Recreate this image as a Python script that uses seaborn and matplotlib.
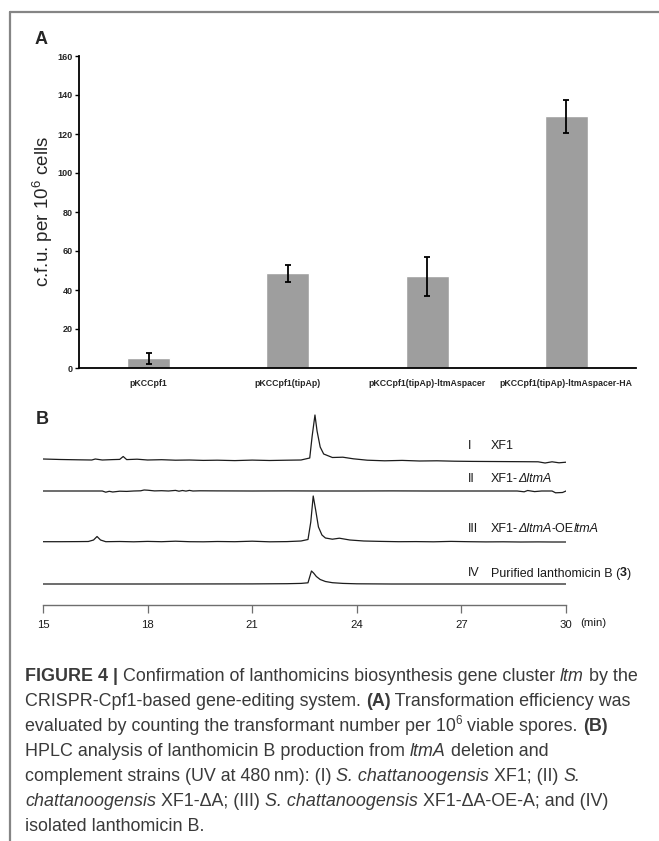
import numpy as np
import pandas as pd
import matplotlib
matplotlib.use("Agg")
import matplotlib.pyplot as plt
import seaborn as sns
from matplotlib.lines import Line2D

# ---------- data: panel A (transformation efficiency) ----------
categories = ['pKCCpf1', 'pKCCpf1(tipAp)', 'pKCCpf1(tipAp)-ltmAspacer',
              'pKCCpf1(tipAp)-ltmAspacer-HA']
cfu_mean = [5.0, 48.5, 47.0, 129.0]
cfu_err = [2.8, 4.5, 10.0, 8.5]
y_ticks_a = [0, 20, 40, 60, 80, 100, 120, 140, 160]

# ---------- data: panel B (HPLC traces) ----------
time_I = [15.0, 15.5, 16.0, 16.4, 16.5, 16.7, 17.0, 17.2, 17.3, 17.4, 17.7, 18.0,
          18.4, 18.8, 19.2, 19.6, 20.0, 20.5, 21.0, 21.5, 22.0, 22.4, 22.65, 22.72,
          22.8, 22.86, 22.95, 23.05, 23.3, 23.6, 23.9, 24.3, 24.8, 25.3, 25.8, 26.3,
          26.8, 27.3, 27.8, 28.3, 28.8, 29.2, 29.4, 29.6, 29.8, 30.0]
signal_I = [2.0, 1.5, 1.2, 1.0, 2.0, 1.0, 1.4, 1.6, 4.5, 1.4, 1.8, 1.0,
            1.3, 0.8, 1.0, 0.6, 0.8, 0.4, 0.9, 0.5, 0.8, 1.0, 3.0, 25.0,
            46.0, 30.0, 14.0, 7.0, 3.5, 3.8, 2.2, 0.8, 0.2, 0.6, 0.0, 0.2,
            -0.2, -0.4, -0.5, -0.6, -0.7, -0.8, -2.0, -0.8, -1.8, -1.2]

time_II = [15.0, 16.0, 16.7, 16.8, 16.9, 17.0, 17.2, 17.4, 17.6, 17.8, 17.9, 18.0,
           18.2, 18.4, 18.6, 18.8, 18.9, 19.0, 19.1, 19.2, 19.3, 19.5, 20.0, 21.0,
           22.0, 23.0, 24.0, 25.0, 26.0, 27.0, 28.0, 28.6, 28.8, 28.9, 29.1, 29.3,
           29.6, 29.7, 29.9, 30.0]
signal_II = [0.0, 0.0, 0.0, -1.2, -0.3, -1.0, -0.2, -0.4, 0.0, 0.2, 1.0, 0.8,
             0.1, 0.3, 0.0, 0.6, -0.2, 0.5, -0.1, 0.6, 0.0, 0.2, 0.1, 0.0,
             0.1, 0.0, 0.0, 0.1, 0.0, 0.0, 0.0, 0.0, -0.8, 0.5, -0.6, 0.0,
             0.0, -1.8, -1.5, 0.0]

time_III = [15.0, 15.5, 16.0, 16.3, 16.45, 16.55, 16.65, 16.8, 17.2, 17.6, 18.0,
            18.4, 18.8, 19.2, 19.6, 20.0, 20.5, 21.0, 21.5, 22.0, 22.4, 22.6, 22.68,
            22.75, 22.82, 22.9, 23.0, 23.1, 23.3, 23.5, 23.8, 24.2, 24.7, 25.2, 25.7,
            26.2, 26.7, 27.2, 27.7, 28.2, 28.7, 29.2, 29.6, 30.0]
signal_III = [0.3, 0.3, 0.4, 0.5, 2.0, 5.5, 2.0, 0.3, 0.5, 0.2, 0.6,
              0.3, 0.8, 0.3, 0.2, 0.5, 0.3, 0.8, 0.2, 0.4, 1.0, 2.5, 20.0,
              46.0, 32.0, 15.0, 7.0, 4.0, 2.8, 3.8, 2.0, 1.0, 0.6, 0.3, 0.4,
              0.2, 0.6, 0.3, 0.1, 0.2, 0.0, 0.1, 0.0, 0.0]

time_IV = [15.0, 18.0, 21.0, 22.0, 22.4, 22.6, 22.64, 22.7, 22.76, 22.84, 22.95,
           23.1, 23.3, 23.6, 24.0, 25.0, 27.0, 30.0]
signal_IV = [0.0, 0.0, 0.1, 0.3, 0.6, 1.2, 6.0, 13.0, 11.0, 7.5, 4.5,
             2.5, 1.3, 0.6, 0.2, 0.0, 0.0, 0.0]

x_ticks_b = [15, 18, 21, 24, 27, 30]

trace_labels = [
    ('I', [('XF1', '')]),
    ('II', [('XF1-', ''), ('\u0394ltmA', 'i')]),
    ('III', [('XF1-', ''), ('\u0394ltmA', 'i'), ('-OE', ''), ('ltmA', 'i')]),
    ('IV', [('Purified lanthomicin B (', ''), ('3', 'b'), (')', '')]),
]

caption_lines = [
    [('FIGURE 4 | ', 'b'), ('Confirmation of lanthomicins biosynthesis gene cluster ', ''),
     ('ltm', 'i'), (' by the', '')],
    [('CRISPR-Cpf1-based gene-editing system. ', ''), ('(A)', 'b'),
     (' Transformation efficiency was', '')],
    [('evaluated by counting the transformant number per 10', ''), ('6', 's'),
     (' viable spores. ', ''), ('(B)', 'b')],
    [('HPLC analysis of lanthomicin B production from ', ''), ('ltmA', 'i'),
     (' deletion and', '')],
    [('complement strains (UV at 480\u2009nm): (I) ', ''), ('S. chattanoogensis', 'i'),
     (' XF1; (II) ', ''), ('S.', 'i')],
    [('chattanoogensis', 'i'), (' XF1-\u0394A; (III) ', ''), ('S. chattanoogensis', 'i'),
     (' XF1-\u0394A-OE-A; and (IV)', '')],
    [('isolated lanthomicin B.', '')],
]

# ---------- figure ----------
sns.set_style("white")
plt.rcParams['font.family'] = ['Liberation Sans', 'DejaVu Sans']
plt.rcParams['mathtext.default'] = 'regular'

W, H = 659, 841
fig = plt.figure(figsize=(W / 100, H / 100), dpi=100)
renderer = fig.canvas.get_renderer()


def fx(px):
    return px / W


def fy(py):
    return 1 - py / H


def seg_width(s, props):
    t1 = fig.text(0, 0, '|' + s + '|', **props)
    t2 = fig.text(0, 0, '||', **props)
    w = t1.get_window_extent(renderer).width - t2.get_window_extent(renderer).width
    t1.remove()
    t2.remove()
    return w


def rich_text(x_px, y_center, segments, size, color):
    em = size * 100 / 72
    base = y_center + 0.36 * em
    x = x_px
    for s, style in segments:
        props = dict(fontsize=size, color=color, ha='left', va='baseline')
        yy = base
        if 'b' in style:
            props['fontweight'] = 'bold'
        if 'i' in style:
            props['fontstyle'] = 'italic'
        if 's' in style:
            props['fontsize'] = size * 0.65
            yy = base - 0.42 * em
        fig.text(fx(x), fy(yy), s, **props)
        x += seg_width(s, props)


# outer frame (top and left edge only)
fig.add_artist(Line2D([fx(10), fx(10)], [0, fy(12)], transform=fig.transFigure,
                      color='#858585', lw=1.6))
fig.add_artist(Line2D([fx(10), 1], [fy(12), fy(12)], transform=fig.transFigure,
                      color='#858585', lw=1.6))

# ---------- panel A ----------
axA = fig.add_axes([fx(79), fy(368), (636 - 79) / W, (368 - 56) / H])
sns.barplot(x=categories, y=cfu_mean, color='#9e9e9e', saturation=1,
            width=0.31, errorbar=None, ax=axA)
axA.errorbar(range(len(categories)), cfu_mean, yerr=cfu_err, fmt='none',
             ecolor='black', elinewidth=1.3, capsize=2.5, capthick=1.3)
axA.set_xlim(-0.5, len(categories) - 0.5)
axA.set_ylim(0, 160)
axA.set_yticks(y_ticks_a)
axA.set_yticklabels([str(v) for v in y_ticks_a], fontsize=6.5, fontweight='bold')
axA.set_xticks(range(len(categories)))
axA.set_xticklabels(categories, fontsize=6.3, fontweight='bold')
axA.set_xticks([0.5, 1.5, 2.5, 3.5], minor=True)
axA.tick_params(axis='x', which='major', length=0, pad=8)
axA.tick_params(axis='x', which='minor', length=4, width=1, direction='inout')
axA.tick_params(axis='y', length=3, width=1, pad=1.5, color='black', left=True)
for side in ['top', 'right']:
    axA.spines[side].set_visible(False)
for side in ['left', 'bottom']:
    axA.spines[side].set_color('black')
    axA.spines[side].set_linewidth(1.3)
axA.set_ylabel('c.f.u. per 10$^6$ cells', fontsize=13.5)
axA.yaxis.set_label_coords(-0.043, 0.5)
fig.text(fx(35), fy(39), 'A', fontsize=13, fontweight='bold', va='center', ha='left')

# ---------- panel B ----------
axB = fig.add_axes([fx(43), fy(605), (566 - 43) / W, 200 / H])
traces = [(time_I, signal_I), (time_II, signal_II),
          (time_III, signal_III), (time_IV, signal_IV)]
trace_offsets = [144, 114, 63, 21]
for (t, s), off in zip(traces, trace_offsets):
    sns.lineplot(x=t, y=np.array(s) + off, ax=axB, color='#1c1c1c', lw=0.9,
                 sort=False, estimator=None)
axB.set_xlim(15, 30)
axB.set_ylim(0, 200)
axB.set_xticks(x_ticks_b)
axB.set_xticklabels([str(v) for v in x_ticks_b], fontsize=8.2, color='#1a1a1a')
axB.set_yticks([])
axB.set_ylabel('')
for side in ['top', 'right', 'left']:
    axB.spines[side].set_visible(False)
axB.spines['bottom'].set_color('#6e6e6e')
axB.spines['bottom'].set_linewidth(1.0)
axB.tick_params(axis='x', length=6, width=0.9, color='#6e6e6e', direction='out',
                pad=5, bottom=True)
fig.text(fx(593), fy(623), '(min)', fontsize=8.2, color='#1a1a1a',
         ha='center', va='center')
fig.text(fx(36), fy(420), 'B', fontsize=13, fontweight='bold', va='center', ha='left')

label_y = [445, 478, 527, 572]
for (num, segs), yc in zip(trace_labels, label_y):
    rich_text(468, yc, [(num, '')], 9, '#1a1a1a')
    rich_text(491, yc, segs, 9, '#1a1a1a')

# ---------- caption ----------
for k, line in enumerate(caption_lines):
    rich_text(25, 675 + 25 * k, line, 12.9, '#3a3a3a')

fig.savefig('out.png', dpi=100)
